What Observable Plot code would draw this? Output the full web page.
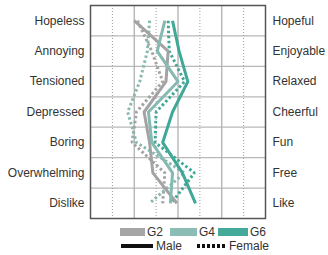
<!DOCTYPE html>
<html><head><meta charset="utf-8">
<script src="https://cdn.jsdelivr.net/npm/d3@7"></script>
<script src="https://cdn.jsdelivr.net/npm/@observablehq/plot@0.6"></script>
<style>
body{margin:0;background:#fff;font-family:"Liberation Sans",Arial,sans-serif;}
#wrap{position:relative;width:328px;height:255px;overflow:hidden;}
#chart svg{display:block;}
.lg{position:absolute;font-size:12px;color:#333;line-height:12px;}
.sw{position:absolute;height:8px;}
</style></head><body>
<div id="wrap"><div id="chart"></div>
<div class="sw" style="left:120px;top:228px;width:25px;background:#a6a6a6"></div>
<div class="lg" style="left:147px;top:226px">G2</div>
<div class="sw" style="left:170px;top:228px;width:27px;background:#8bbdb5"></div>
<div class="lg" style="left:199px;top:226px">G4</div>
<div class="sw" style="left:218px;top:228px;width:30px;background:#45aa99"></div>
<div class="lg" style="left:250px;top:226px">G6</div>
<svg style="position:absolute;left:120px;top:242px" width="110" height="8">
 <line x1="1" x2="33" y1="4" y2="4" stroke="#111" stroke-width="4"/>
 <line x1="77" x2="107" y1="4" y2="4" stroke="#111" stroke-width="4" stroke-dasharray="3,2"/>
</svg>
<div class="lg" style="left:156px;top:240px">Male</div>
<div class="lg" style="left:229px;top:240px">Female</div>
</div>
<script>
const negLabels = ["Hopeless","Annoying","Tensioned","Depressed","Boring","Overwhelming","Dislike"];
const posLabels = ["Hopeful","Enjoyable","Relaxed","Cheerful","Fun","Free","Like"];
const groups = ["G2","G4","G6"];
const groupColors = ["#a3a3a3","#86b9b1","#3fa896"];
const g2Male   = [-2.0, -0.45, -0.55, -1.55, -1.3, -1.15, -0.05];
const g4Male   = [-0.6, -0.95, 0.0, -1.35, -1.2, -0.25, -0.35];
const g6Male   = [-0.25, 0.05, 0.45, -0.25, -0.7, 0.2, 0.8];
const g2Female = [-1.85, -1.2, -0.7, -1.9, -2.1, -0.6, -0.7];
const g4Female = [-1.3, -1.4, -1.75, -2.3, -1.9, 0.3, -1.3];
const g6Female = [-0.45, -0.4, 0.3, -1.0, -1.05, 0.75, -0.3];
const xMajor = [-2, 0, 2];
const xMinor = [-3, -1, 1, 3];

const toRows = (vals, group) => vals.map((v, i) => ({group, i, v}));
const male = [...toRows(g2Male,"G2"), ...toRows(g4Male,"G4"), ...toRows(g6Male,"G6")];
const female = [...toRows(g2Female,"G2"), ...toRows(g4Female,"G4"), ...toRows(g6Female,"G6")];
const idx = d3.range(negLabels.length);
const bounds = idx.slice(1).map(i => i - 0.5);

const plot = Plot.plot({
  width: 328, height: 222,
  marginLeft: 90, marginRight: 63, marginTop: 5, marginBottom: 4,
  x: {domain: [-4, 4], axis: null},
  y: {domain: [-0.5, negLabels.length - 0.5], reverse: true, axis: null},
  color: {domain: groups, range: groupColors},
  style: {fontFamily: '"Liberation Sans",Arial,sans-serif', fontSize: "12px", color: "#333", background: "#fff"},
  marks: [
    Plot.ruleY(bounds, {stroke: "#b8b8b8", strokeWidth: 1.2}),
    Plot.ruleX(xMinor, {stroke: "#9a9a9a", strokeWidth: 1, strokeDasharray: "1,2"}),
    Plot.ruleX(xMajor, {stroke: "#b0b0b0", strokeWidth: 1.3}),
    Plot.line(female, {x: "v", y: "i", z: "group", stroke: "group", strokeWidth: 3, strokeDasharray: "2.5,2.5", strokeLinecap: "butt", strokeLinejoin: "miter"}),
    Plot.line(male, {x: "v", y: "i", z: "group", stroke: "group", strokeWidth: 3, strokeLinecap: "butt"}),
    Plot.frame({stroke: "#555", strokeWidth: 1.5}),
    Plot.axisY(idx, {anchor: "left", label: null, tickSize: 0, tickPadding: 6, tickFormat: i => negLabels[i]}),
    Plot.axisY(idx, {anchor: "right", label: null, tickSize: 0, tickPadding: 7, tickFormat: i => posLabels[i]})
  ]
});
document.getElementById("chart").appendChild(plot);
</script>
</body></html>
